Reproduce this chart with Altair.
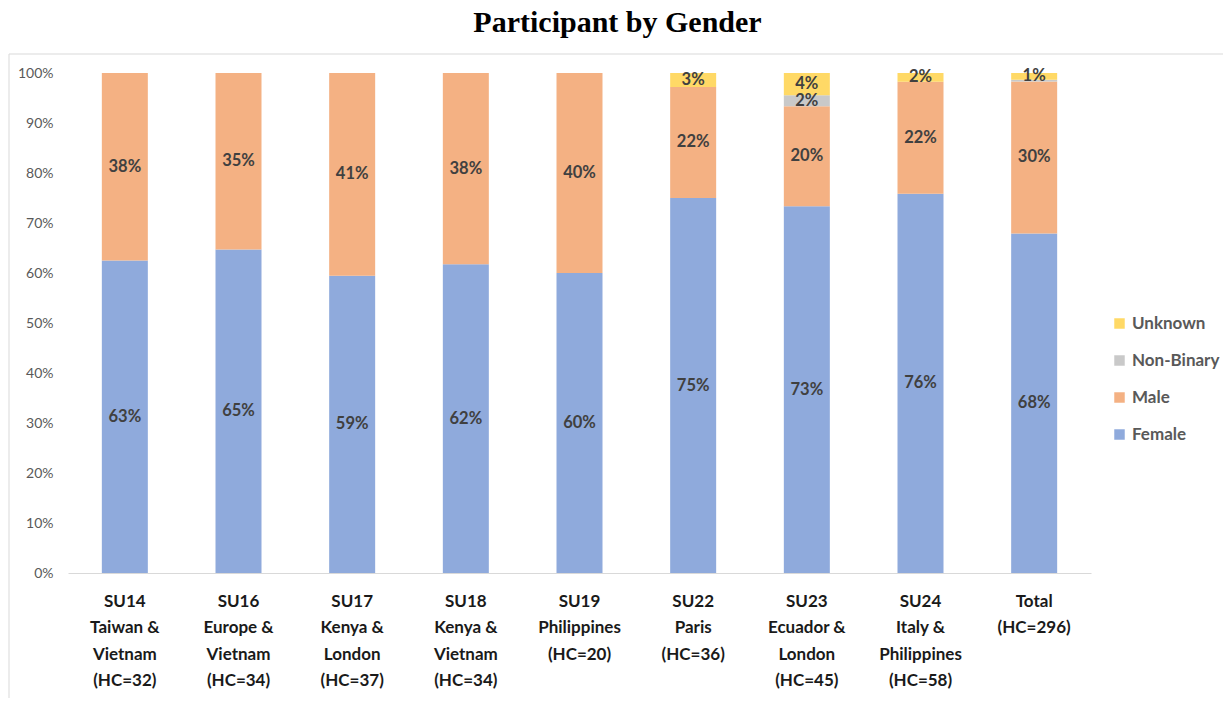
import altair as alt
import pandas as pd

categories = [
    "SU14|Taiwan &|Vietnam|(HC=32)",
    "SU16|Europe &|Vietnam|(HC=34)",
    "SU17|Kenya &|London|(HC=37)",
    "SU18|Kenya &|Vietnam|(HC=34)",
    "SU19|Philippines|(HC=20)",
    "SU22|Paris|(HC=36)",
    "SU23|Ecuador &|London|(HC=45)",
    "SU24|Italy &|Philippines|(HC=58)",
    "Total|(HC=296)",
]
female = [62.5, 64.71, 59.46, 61.76, 60.0, 75.0, 73.33, 75.86, 67.91]
male = [37.5, 35.29, 40.54, 38.24, 40.0, 22.22, 20.0, 22.41, 30.41]
non_binary = [0, 0, 0, 0, 0, 0, 2.22, 0, 0.34]
unknown = [0, 0, 0, 0, 0, 2.78, 4.44, 1.72, 1.35]

genders = ["Female", "Male", "Non-Binary", "Unknown"]
legend_order = ["Unknown", "Non-Binary", "Male", "Female"]
colors = ["#FFD966", "#C9C9C9", "#F4B183", "#8FAADC"]

rows = []
for gi, (g, vals) in enumerate(zip(genders, [female, male, non_binary, unknown])):
    for c, v in zip(categories, vals):
        rows.append({"cat": c, "gender": g, "value": v / 100.0, "ord": gi})
df = pd.DataFrame(rows)

FONT = "Lato"

xenc = alt.X(
    "cat:N",
    sort=categories,
    scale=alt.Scale(paddingInner=0.595, paddingOuter=0.2975),
    axis=alt.Axis(
        title=None,
        labelAngle=0,
        labelExpr="split(datum.label, '|')",
        labelFont=FONT,
        labelFontSize=17,
        labelFontWeight="bold",
        labelColor="#1a1a1a",
        labelLineHeight=26.5,
        labelBaseline="top",
        labelPadding=20,
        ticks=False,
        domainColor="#d9d9d9",
        domainWidth=1,
        grid=False,
    ),
)

base = alt.Chart(df)

bars = base.mark_bar(size=46).encode(
    x=xenc,
    y=alt.Y(
        "value:Q",
        stack="zero",
        scale=alt.Scale(domain=[0, 1]),
        axis=alt.Axis(
            title=None,
            values=[i / 10 for i in range(11)],
            format=".0%",
            labelFont=FONT,
            labelFontSize=14,
            labelColor="#595959",
            labelPadding=15,
            ticks=False,
            domain=False,
            grid=False,
        ),
    ),
    color=alt.Color(
        "gender:N",
        scale=alt.Scale(domain=legend_order, range=colors),
        legend=alt.Legend(
            title=None,
            orient="none",
            legendX=1043,
            legendY=242,
            symbolType="square",
            symbolSize=110,
            symbolStrokeWidth=0,
            labelFont=FONT,
            labelFontSize=17,
            labelFontWeight="bold",
            labelColor="#595959",
            rowPadding=19,
            labelOffset=4,
            padding=0,
        ),
    ),
    order=alt.Order("ord:Q"),
)

labels = (
    base.transform_stack(
        stack="value", groupby=["cat"], as_=["y0", "y1"], sort=[alt.SortField("ord")]
    )
    .transform_calculate(mid="(datum.y0 + datum.y1) / 2")
    .transform_filter("datum.value >= 0.005")
    .mark_text(font=FONT, fontSize=16.5, fontWeight="bold", color="#404040", baseline="middle")
    .encode(
        x=alt.X("cat:N", sort=categories),
        y=alt.Y("mid:Q"),
        text=alt.Text("value:Q", format=".0%"),
    )
)

frame = pd.DataFrame({"k": [0]})
top_border = alt.Chart(frame).mark_rule(color="#d9d9d9", strokeWidth=1).encode(
    x=alt.value(-59), x2=alt.value(1160), y=alt.value(-19)
)
left_border = alt.Chart(frame).mark_rule(color="#d9d9d9", strokeWidth=1).encode(
    x=alt.value(-59), y=alt.value(-19), y2=alt.value(640)
)

chart = (
    alt.layer(top_border, left_border, bars, labels)
    .properties(
        width=1023,
        height=500,
        padding={"left": 60, "top": 65, "right": 132, "bottom": 125},
        autosize=alt.AutoSizeParams(type="none"),
        title=alt.TitleParams(
            "Participant by Gender",
            font="Liberation Serif",
            fontSize=30,
            fontWeight="bold",
            color="black",
            anchor="middle",
            frame="group",
            dx=38,
            offset=16,
        ),
    )
    .configure_view(stroke=None)
)

chart.save("out.html", embed_options={"renderer": "svg", "actions": False})
